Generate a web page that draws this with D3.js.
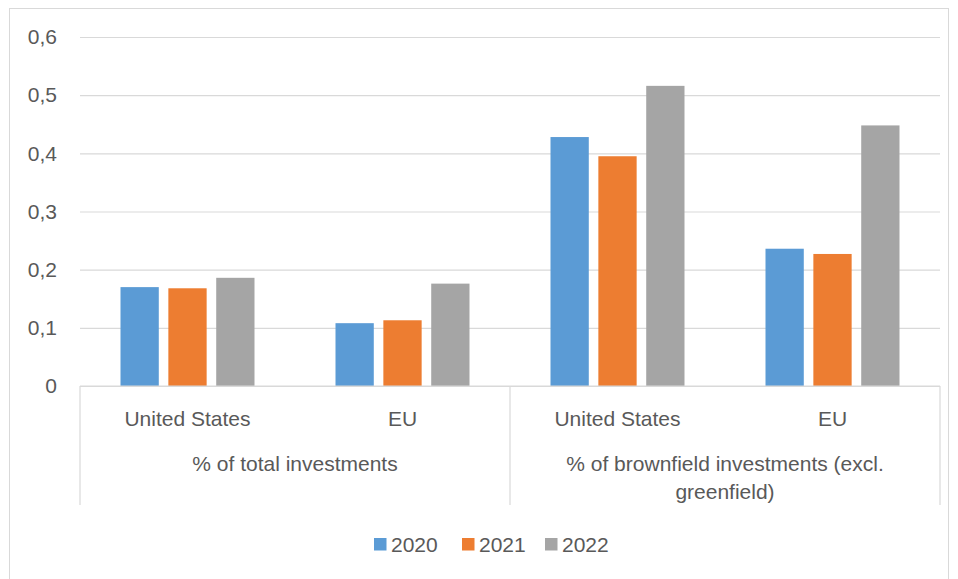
<!DOCTYPE html>
<html>
<head>
<meta charset="utf-8">
<script src="https://cdn.jsdelivr.net/npm/d3@7"></script>
<style>
  body { margin: 0; background: #fff; }
  svg text { font-family: "Liberation Sans", Arial, sans-serif; fill: #595959; }
</style>
</head>
<body>
<svg id="chart" width="958" height="579"></svg>
<script>
const svg = d3.select('#chart');

const margin = { top: 37, right: 18, bottom: 193, left: 80 };
const width = +svg.attr('width');
const height = +svg.attr('height');
const innerWidth = width - margin.left - margin.right;
const innerHeight = height - margin.top - margin.bottom;

// data
const groups = ['% of total investments', '% of brownfield investments (excl. greenfield)'];
const categories = ['United States', 'EU', 'United States', 'EU'];
const categoryGroup = [0, 0, 1, 1];
const years = ['2020', '2021', '2022'];
const values2020 = [0.17, 0.108, 0.428, 0.236];
const values2021 = [0.168, 0.113, 0.395, 0.227];
const values2022 = [0.186, 0.176, 0.516, 0.448];
const yTicks = [0, 0.1, 0.2, 0.3, 0.4, 0.5, 0.6];
const colors = ['#5b9bd5', '#ed7d31', '#a5a5a5'];

const series = [values2020, values2021, values2022];
const fontSize = 21;

// outer chart border
svg.append('rect')
  .attr('x', 9.5).attr('y', 8.5)
  .attr('width', 939).attr('height', 580)
  .attr('fill', 'none')
  .attr('stroke', '#d9d9d9');

const g = svg.append('g').attr('transform', `translate(${margin.left},${margin.top})`);

const yScale = d3.scaleLinear().domain([0, 0.6]).range([innerHeight, 0]);
const xScale = d3.scaleBand().domain(d3.range(categories.length)).range([0, innerWidth]);
const xInner = d3.scaleBand().domain(years).range([40.5, xScale.bandwidth() - 40.5]).paddingInner(0.2);

// gridlines + tick labels
const yAxis = d3.axisLeft(yScale)
  .tickValues(yTicks)
  .tickSize(-innerWidth)
  .tickPadding(23)
  .tickFormat(d => d === 0 ? '0' : d3.format('.1f')(d).replace('.', ','));

const yAxisG = g.append('g').call(yAxis);
yAxisG.select('.domain').remove();
yAxisG.selectAll('.tick line').attr('stroke', '#d9d9d9').attr('stroke-width', 1.2);
yAxisG.selectAll('.tick text').attr('font-size', fontSize).attr('fill', '#595959')
  .attr('font-family', '"Liberation Sans", Arial, sans-serif');

// bars
years.forEach((yr, si) => {
  g.append('g').selectAll('rect')
    .data(series[si])
    .enter().append('rect')
      .attr('x', (d, i) => xScale(i) + xInner(yr))
      .attr('y', d => yScale(d))
      .attr('width', xInner.bandwidth())
      .attr('height', d => innerHeight - yScale(d))
      .attr('fill', colors[si]);
});

// category axis with group separators
const axisBottom = innerHeight + 119;
const lines = g.append('g').attr('stroke', '#d9d9d9').attr('stroke-width', 1.2);
lines.append('line').attr('x1', 0).attr('x2', innerWidth)
  .attr('y1', innerHeight).attr('y2', innerHeight);
[0, 2, 4].forEach(i => {
  const x = i < categories.length ? xScale(i) : innerWidth;
  lines.append('line').attr('x1', x).attr('x2', x)
    .attr('y1', innerHeight).attr('y2', axisBottom);
});

g.append('g').selectAll('text')
  .data(categories)
  .enter().append('text')
    .attr('x', (d, i) => xScale(i) + xScale.bandwidth() / 2)
    .attr('y', innerHeight + 40)
    .attr('text-anchor', 'middle')
    .attr('font-size', fontSize)
    .text(d => d);

const groupLines = [['% of total investments'], ['% of brownfield investments (excl.', 'greenfield)']];
groupLines.forEach((ls, gi) => {
  const idx = categoryGroup.indexOf(gi);
  const cx = xScale(idx) + xScale.bandwidth();
  ls.forEach((t, li) => {
    g.append('text')
      .attr('x', cx)
      .attr('y', innerHeight + 85 + li * 28)
      .attr('text-anchor', 'middle')
      .attr('font-size', fontSize)
      .text(t);
  });
});

// legend
const legendX = [374, 462, 545];
const legend = svg.append('g');
years.forEach((yr, i) => {
  legend.append('rect')
    .attr('x', legendX[i]).attr('y', 538)
    .attr('width', 12.5).attr('height', 12.5)
    .attr('fill', colors[i]);
  legend.append('text')
    .attr('x', legendX[i] + 17).attr('y', 552)
    .attr('font-size', fontSize)
    .text(yr);
});
</script>
</body>
</html>
